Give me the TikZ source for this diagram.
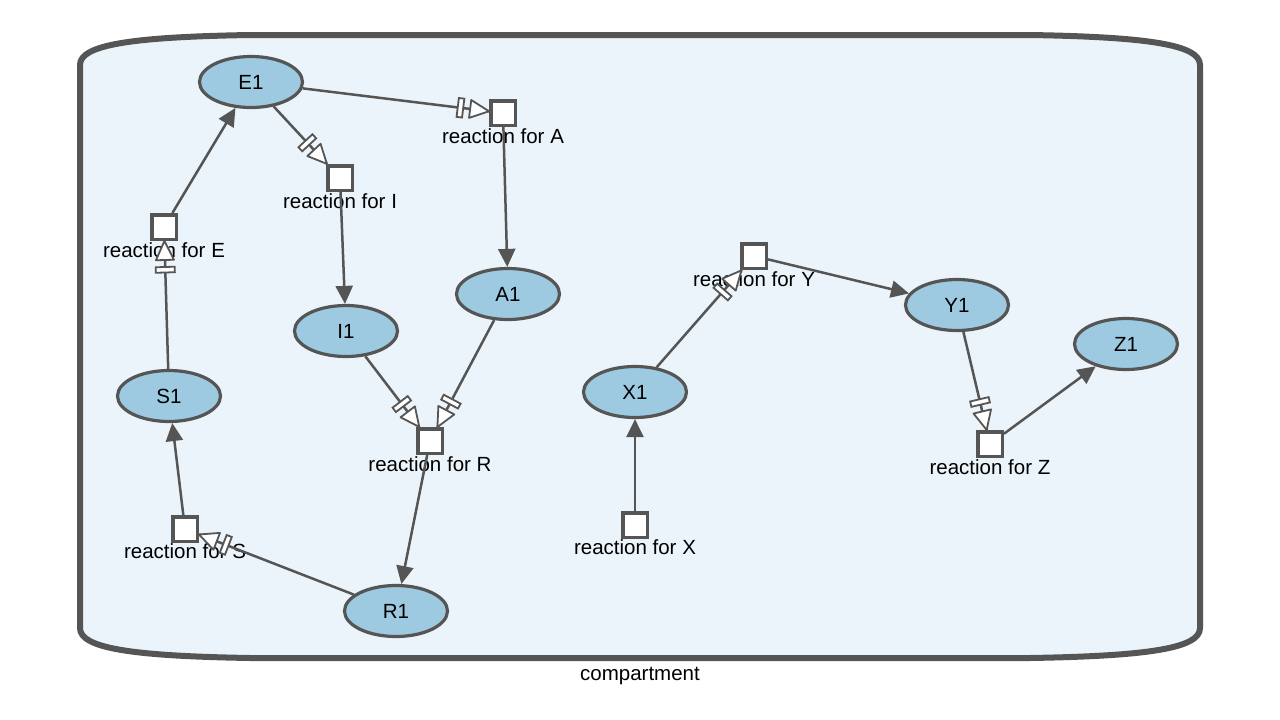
\documentclass[tikz,border=0pt]{standalone}
\usepackage{fontspec}
\setmainfont{Liberation Sans}
\usetikzlibrary{shapes.geometric,arrows.meta,decorations.markings}
\definecolor{edgegray}{HTML}{555555}
\definecolor{specfill}{HTML}{9ECAE1}
\definecolor{compfill}{HTML}{EBF4FA}

\begin{document}
\begin{tikzpicture}[x=1pt,y=-1pt,
  every node/.style={font=\fontsize{20.5}{24}\selectfont},
  species/.style={ellipse, draw=edgegray, fill=specfill, line width=3.2pt,
    minimum width=103pt, minimum height=51pt, inner sep=0pt},
  process/.style={rectangle, draw=edgegray, fill=white, line width=3.5pt,
    minimum size=24.5pt, inner sep=0pt},
  rlabel/.style={inner sep=0pt, anchor=base},
  production/.style={draw=edgegray, line width=2.5pt,
    -{Triangle[length=18pt,width=17pt]}},
  necstim/.style={draw=edgegray, line width=2.5pt, postaction={decorate},
    decoration={markings, mark=at position 1 with {
      \draw[line width=1.8pt, fill=white, draw=edgegray, line join=round]
        (0pt,0pt) -- (-19pt,9pt) -- (-19pt,-9pt) -- cycle;
      \draw[line width=1.8pt, fill=white, draw=edgegray]
        (-31.5pt,-9.5pt) rectangle (-26pt,9.5pt);}}},
  compartment/.style={draw=edgegray, fill=compfill, line width=6pt}
]
\useasboundingbox (0,0) rectangle (1280,720);

% compartment outline
\path[compartment] (80,65) .. controls (80,45) and (130,37) .. (250,35)
  -- (1030,35) .. controls (1150,37) and (1200,45) .. (1200,65)
  -- (1200,628) .. controls (1200,648) and (1150,656) .. (1030,658)
  -- (250,658) .. controls (130,656) and (80,648) .. (80,628) -- cycle;
\node[rlabel] (lcomp) at (640,680) {compartment};

% species
\node[species] (E1) at (251,82) {E1};
\node[species] (A1) at (508,294) {A1};
\node[species] (I1) at (346,331) {I1};
\node[species] (S1) at (169,396) {S1};
\node[species] (R1) at (396,611) {R1};
\node[species] (X1) at (635,392) {X1};
\node[species] (Y1) at (957,305) {Y1};
\node[species] (Z1) at (1126,344) {Z1};

% processes
\node[process] (rA) at (503,113) {};
\node[process] (rI) at (340,178) {};
\node[process] (rE) at (164,227) {};
\node[process] (rR) at (430,441) {};
\node[process] (rS) at (185,529) {};
\node[process] (rX) at (635,525) {};
\node[process] (rY) at (754,256) {};
\node[process] (rZ) at (990,444) {};

\node[rlabel] (lA) at (503,143) {reaction for A};
\node[rlabel] (lI) at (340,208) {reaction for I};
\node[rlabel] (lE) at (164,257) {reaction for E};
\node[rlabel] (lR) at (430,471) {reaction for R};
\node[rlabel] (lS) at (185,558) {reaction for S};
\node[rlabel] (lX) at (635,554) {reaction for X};
\node[rlabel] (lY) at (754,286) {reaction for Y};
\node[rlabel] (lZ) at (990,474) {reaction for Z};

% necessary stimulations
\draw[necstim] (E1) -- (rA);
\draw[necstim] (E1) -- (rI);
\draw[necstim] (S1) -- (rE);
\draw[necstim] (I1) -- (rR);
\draw[necstim] (A1) -- (rR);
\draw[necstim] (R1) -- (rS);
\draw[necstim] (X1) -- (rY);
\draw[necstim] (Y1) -- (rZ);

% productions
\draw[production] (rA) -- (A1);
\draw[production] (rI) -- (I1);
\draw[production] (rE) -- (E1);
\draw[production] (rR) -- (R1);
\draw[production] (rS) -- (S1);
\draw[production] (rX) -- (X1);
\draw[production] (rY) -- (Y1);
\draw[production] (rZ) -- (Z1);
\end{tikzpicture}
\end{document}
